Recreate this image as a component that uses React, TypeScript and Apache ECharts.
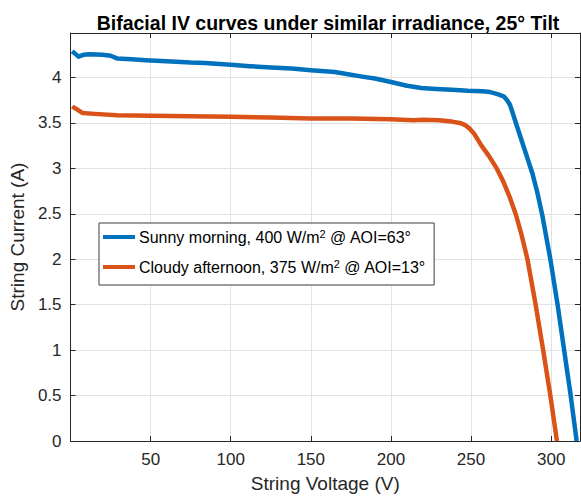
import React, { useEffect, useRef } from "react";
import * as echarts from "echarts";

const TITLE = "Bifacial IV curves under similar irradiance, 25° Tilt";
const X_NAME = "String Voltage (V)";
const Y_NAME = "String Current (A)";
const SERIES_NAMES = [
  "Sunny morning, 400 W/m2 @ AOI=63°",
  "Cloudy afternoon, 375 W/m2 @ AOI=13°",
];

const sunnyV = [1, 3, 5, 8, 12, 20, 25, 29, 38, 47, 60, 75, 84, 100, 112, 125, 138, 150, 165, 175, 182, 190, 200, 210, 219, 228, 238, 248, 257, 262, 267, 270.6, 272.5, 274.3, 276, 278, 283, 288.2, 291.3, 294.4, 299.5, 304, 308.1, 312.2, 315.9];
const sunnyI = [4.29, 4.26, 4.23, 4.25, 4.255, 4.25, 4.24, 4.21, 4.2, 4.19, 4.18, 4.165, 4.16, 4.14, 4.125, 4.11, 4.1, 4.08, 4.06, 4.03, 4.01, 3.99, 3.95, 3.91, 3.885, 3.875, 3.865, 3.855, 3.85, 3.84, 3.815, 3.79, 3.75, 3.7, 3.61, 3.5, 3.23, 2.95, 2.74, 2.49, 2.0, 1.5, 1.0, 0.5, 0];

const cloudyV = [1, 4, 7.4, 15, 29, 50, 75, 100, 125, 150, 175, 200, 214, 220, 230, 238, 243, 246, 249, 252, 256.5, 261, 266, 270, 274, 278, 281.5, 285.2, 290.3, 295, 299.5, 303.6];
const cloudyI = [3.68, 3.65, 3.61, 3.6, 3.585, 3.58, 3.575, 3.567, 3.56, 3.55, 3.55, 3.54, 3.53, 3.535, 3.53, 3.515, 3.5, 3.48, 3.44, 3.38, 3.25, 3.14, 3.0, 2.86, 2.69, 2.49, 2.27, 2.0, 1.5, 1.0, 0.5, 0];

const X_MIN = 0;
const X_MAX = 318;
const X_INTERVAL = 50;
const Y_MIN = 0;
const Y_MAX = 4.49;
const Y_INTERVAL = 0.5;

const COLORS = ["#0072BD", "#D95319"];
const FONT = "Liberation Sans, Arial, Helvetica, sans-serif";
const AXIS_COLOR = "#262626";
const GRID_COLOR = "#e2e2e2";

function pairs(xs: number[], ys: number[]) {
  return xs.map((x, i) => [x, ys[i]]);
}

export default function App() {
  const ref = useRef<HTMLDivElement>(null);
  useEffect(() => {
    if (!ref.current) return;
    const chart = echarts.init(ref.current, undefined, { renderer: "svg" });
    const baseAxisX = {
      type: "value" as const,
      min: X_MIN,
      max: X_MAX,
      interval: X_INTERVAL,
    };
    const baseAxisY = {
      type: "value" as const,
      min: Y_MIN,
      max: Y_MAX,
      interval: Y_INTERVAL,
    };
    chart.setOption({
      animation: false,
      backgroundColor: "#ffffff",
      title: {
        text: TITLE,
        left: 323,
        top: 8,
        textAlign: "center",
        textStyle: { fontFamily: FONT, fontSize: 19.5, fontWeight: "bold", color: "#000" },
      },
      grid: { left: 64, right: 1, top: 33, bottom: 57, containLabel: false },
      legend: {
        orient: "vertical",
        left: 99,
        top: 223,
        data: SERIES_NAMES,
        icon: "rect",
        itemWidth: 32,
        itemHeight: 4,
        itemGap: 8,
        padding: [5, 8, 5, 4],
        backgroundColor: "#ffffff",
        borderColor: "#3a3a3a",
        borderWidth: 1,
        borderRadius: 0,
        textStyle: {
          fontFamily: FONT,
          fontSize: 16,
          color: "#000",
          padding: [0, 0, 0, -1],
          rich: {
            t: { fontFamily: FONT, fontSize: 16, color: "#000", lineHeight: 18 },
            sup: { fontFamily: FONT, fontSize: 11, color: "#000", verticalAlign: "top", padding: [0, 0, 11, 0], lineHeight: 11 },
          },
        },
        formatter: (name: string) => {
          const parts = name.split("m2");
          return `{t|${parts[0]}m}{sup|2}{t|${parts[1]}}`;
        },
      },
      xAxis: [
        {
          ...baseAxisX,
          position: "bottom",
          name: X_NAME,
          nameLocation: "middle",
          nameGap: 33,
          nameTextStyle: { fontFamily: FONT, fontSize: 19, color: AXIS_COLOR },
          axisLine: { show: true, onZero: false, lineStyle: { color: AXIS_COLOR, width: 1 } },
          axisTick: { show: true, inside: true, length: 5, lineStyle: { color: AXIS_COLOR } },
          axisLabel: { showMinLabel: false, showMaxLabel: false, fontFamily: FONT, fontSize: 17, color: AXIS_COLOR, margin: 10 },
          splitLine: { show: true, lineStyle: { color: GRID_COLOR, width: 1 } },
        },
        {
          ...baseAxisX,
          position: "top",
          axisLine: { show: true, onZero: false, lineStyle: { color: AXIS_COLOR, width: 1 } },
          axisTick: { show: true, inside: true, length: 5, lineStyle: { color: AXIS_COLOR } },
          axisLabel: { show: false },
          splitLine: { show: false },
        },
      ],
      yAxis: [
        {
          ...baseAxisY,
          position: "left",
          name: Y_NAME,
          nameLocation: "middle",
          nameGap: 38,
          nameRotate: 90,
          nameTextStyle: { fontFamily: FONT, fontSize: 19, color: AXIS_COLOR },
          axisLine: { show: true, onZero: false, lineStyle: { color: AXIS_COLOR, width: 1 } },
          axisTick: { show: true, inside: true, length: 5, lineStyle: { color: AXIS_COLOR } },
          axisLabel: { showMaxLabel: false, fontFamily: FONT, fontSize: 17, color: AXIS_COLOR, margin: 9 },
          splitLine: { show: true, lineStyle: { color: GRID_COLOR, width: 1 } },
        },
        {
          ...baseAxisY,
          position: "right",
          axisLine: { show: true, onZero: false, lineStyle: { color: AXIS_COLOR, width: 1 } },
          axisTick: { show: true, inside: true, length: 5, lineStyle: { color: AXIS_COLOR } },
          axisLabel: { show: false },
          splitLine: { show: false },
        },
      ],
      series: [
        {
          name: SERIES_NAMES[0],
          type: "line",
          xAxisIndex: 0,
          yAxisIndex: 0,
          data: pairs(sunnyV, sunnyI),
          showSymbol: false,
          smooth: false,
          lineStyle: { color: COLORS[0], width: 4.5, join: "round", cap: "butt" },
          itemStyle: { color: COLORS[0] },
          z: 3,
        },
        {
          name: SERIES_NAMES[1],
          type: "line",
          xAxisIndex: 0,
          yAxisIndex: 0,
          data: pairs(cloudyV, cloudyI),
          showSymbol: false,
          smooth: false,
          lineStyle: { color: COLORS[1], width: 4.5, join: "round", cap: "butt" },
          itemStyle: { color: COLORS[1] },
          z: 3,
        },
      ],
    });
    return () => chart.dispose();
  }, []);
  return <div ref={ref} style={{ width: 581, height: 498, position: "fixed", left: 0, top: 0 }} />;
}
